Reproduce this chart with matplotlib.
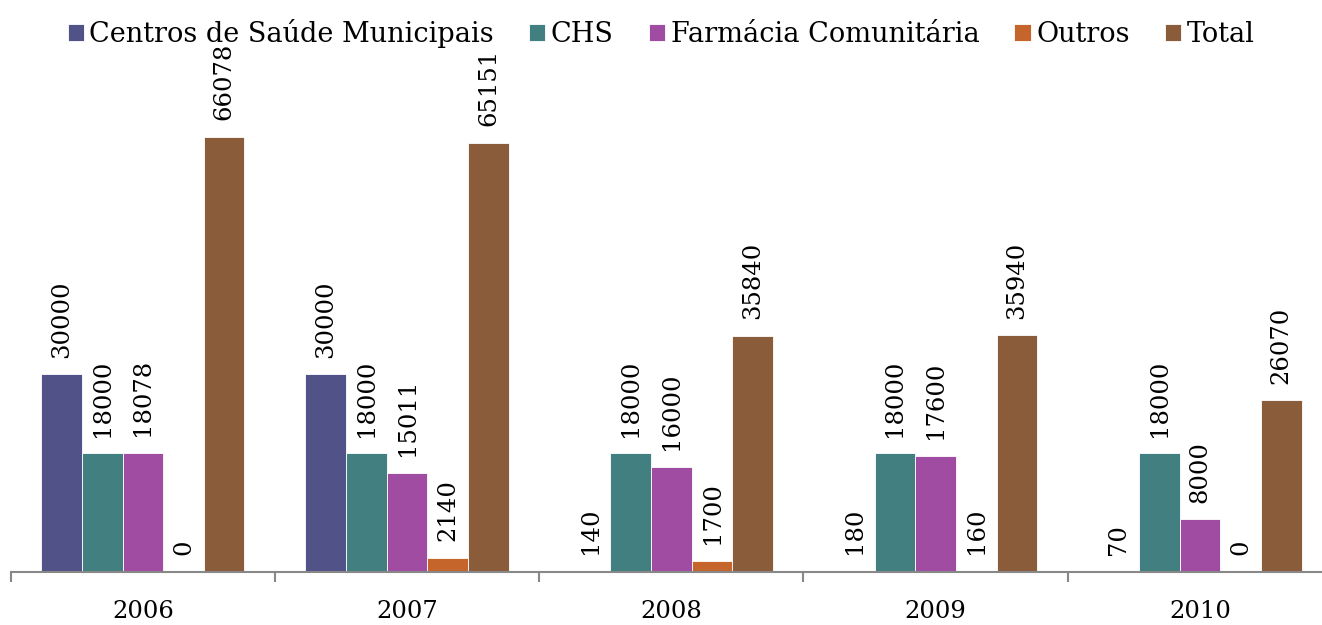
import matplotlib
matplotlib.use("Agg")
import matplotlib.pyplot as plt
import numpy as np

years = ["2006", "2007", "2008", "2009", "2010"]
series_names = ["Centros de Saúde Municipais", "CHS", "Farmácia Comunitária", "Outros", "Total"]
centros = [30000, 30000, 140, 180, 70]
chs = [18000, 18000, 18000, 18000, 18000]
farmacia = [18078, 15011, 16000, 17600, 8000]
outros = [0, 2140, 1700, 160, 0]
total = [66078, 65151, 35840, 35940, 26070]
colors = ["#515288", "#417F80", "#A04CA3", "#C5652C", "#8A5C3A"]

plt.rcParams['font.family'] = ['DejaVu Serif']

W, H = 1322, 625
fig = plt.figure(figsize=(W/100, H/100), dpi=100)
left_px, right_px = 10.7, 1332
top_px, bot_px = 111, 572
ax = fig.add_axes([left_px/W, 1-bot_px/H, (right_px-left_px)/W, (bot_px-top_px)/H])

data = [centros, chs, farmacia, outros, total]
n = len(data)
gap = 1.5
bw = 1.0/(n+gap)
x = np.arange(len(years))
for i, (vals, name, c) in enumerate(zip(data, series_names, colors)):
    pos = x - 0.5 + bw*gap/2 + bw*(i+0.5)
    ax.bar(pos, vals, width=bw, color=c, edgecolor="white", linewidth=0.6, label=name)
    for p, v in zip(pos, vals):
        ax.annotate(str(v), (p, v), xytext=(0, 12), textcoords="offset points",
                    rotation=90, ha="center", va="bottom", fontsize=17.5, annotation_clip=False)

ax.set_xlim(-0.5, len(years)-0.5)
ax.set_ylim(0, 70000)
ax.set_yticks([])
for s in ["top", "right", "left"]:
    ax.spines[s].set_visible(False)
ax.spines["bottom"].set_color("#888888")
ax.spines["bottom"].set_linewidth(1.5)
ax.set_xticks(x)
ax.set_xticklabels(years, fontsize=17.5)
ax.tick_params(axis="x", which="major", length=0, pad=20)
ax.set_xticks(np.arange(len(years)+1)-0.5, minor=True)
ax.tick_params(axis="x", which="minor", length=7, width=1.5, color="#888888")

fig.legend(loc="upper center", bbox_to_anchor=(0.5, 1.0), ncol=5, frameon=False,
           fontsize=19.5, handlelength=0.6, handleheight=0.6, handletextpad=0.2,
           columnspacing=1.3, borderaxespad=0.3)

fig.savefig("out.png", dpi=100)
